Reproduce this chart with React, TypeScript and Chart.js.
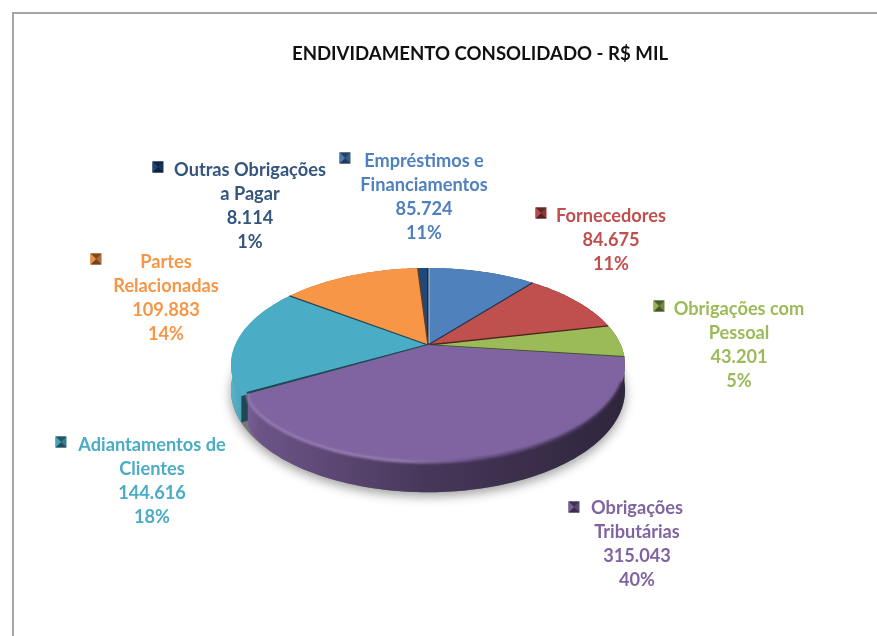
import React, { useEffect, useRef } from "react";
import { Chart, registerables } from "chart.js";

Chart.register(...registerables);

const TITLE = "ENDIVIDAMENTO CONSOLIDADO - R$ MIL";
const categories = [
  ["Empréstimos e", "Financiamentos"],
  ["Fornecedores"],
  ["Obrigações com", "Pessoal"],
  ["Obrigações", "Tributárias"],
  ["Adiantamentos de", "Clientes"],
  ["Partes", "Relacionadas"],
  ["Outras Obrigações", "a Pagar"],
];
const values = [85724, 84675, 43201, 315043, 144616, 109883, 8114];
const sliceColors = ["#4f81bd", "#c0504d", "#9bbb59", "#8064a2", "#4bacc6", "#f79646", "#1f497d"];
const textColors = ["#4f81bd", "#c0504d", "#9bbb59", "#8064a2", "#4bacc6", "#f79646", "#35557f"];

// Layout of the data labels: [text centre x, first baseline y, marker centre x, marker centre y]
const labelLayout = [
  [424, 167, 345, 158],
  [611, 222, 541, 213],
  [739, 315, 659, 306],
  [637, 514, 574, 507],
  [152, 451, 61, 442],
  [166, 268, 96, 259],
  [250, 176, 158, 167],
];

// Perspective of the pie: apex, half axes, foreshortening and wall height
const CX = 428, CY = 345, AX = 192.8, AY = 92.9, K = 0.206, DEPTH = 24;
const FONT = "bold 18.2px Lato";

function shade(hex: string, f: number) {
  const n = parseInt(hex.slice(1), 16);
  const ch = [(n >> 16) & 255, (n >> 8) & 255, n & 255].map((c) =>
    Math.round(f <= 1 ? c * f : c + (255 - c) * (f - 1))
  );
  return `rgb(${ch[0]},${ch[1]},${ch[2]})`;
}

type Inset = ((t: number) => number) | null;

function project(theta: number, down: boolean, inset: Inset = null) {
  const X = Math.sin(theta), Y = Math.cos(theta);
  const w = 1 + K * Y;
  const r = inset ? inset(theta) : 1;
  return { x: CX + (AX * X * r) / w, y: CY - (AY * Y * r) / w + (down ? DEPTH / w : 0) };
}

function tracePath(ctx: CanvasRenderingContext2D, a: number, b: number, down: boolean, first: boolean, inset: Inset = null) {
  const n = Math.max(2, Math.ceil(Math.abs(b - a) / 0.02));
  for (let i = 0; i <= n; i++) {
    const p = project(a + ((b - a) * i) / n, down, inset);
    if (first && i === 0) ctx.moveTo(p.x, p.y);
    else ctx.lineTo(p.x, p.y);
  }
}

const pie3d = {
  id: "pie3d",
  beforeDraw(chart: any) {
    const { ctx, width, height } = chart;
    ctx.save();
    ctx.fillStyle = "#fff";
    ctx.fillRect(0, 0, width, height);
    ctx.strokeStyle = "#a6a6a6";
    ctx.lineWidth = 2;
    ctx.beginPath();
    ctx.moveTo(13, height);
    ctx.lineTo(13, 13);
    ctx.lineTo(width, 13);
    ctx.stroke();
    ctx.restore();
  },
  beforeDatasetDraw(chart: any) {
    const { ctx } = chart;
    const arcs = chart.getDatasetMeta(0).data;
    const colors = chart.data.datasets[0].backgroundColor;
    const ang = arcs.map((arc: any) => [arc.startAngle + Math.PI / 2, arc.endAngle + Math.PI / 2]);
    const left = CX - AX / Math.sqrt(1 - K * K);
    const right = CX + AX / Math.sqrt(1 - K * K);
    const purpleEnd = ang[3][1];
    // the large slice has a softly rounded corner, set in from the teal one
    const roundPurple: Inset = (t) => 1 - 0.035 * Math.exp(-(purpleEnd - t) / 0.09);
    const insetOf = (i: number): Inset => (i === 3 ? roundPurple : null);

    ctx.save();
    // soft shadow below the disc
    ctx.save();
    ctx.shadowColor = "rgba(0,0,0,0.38)";
    ctx.shadowBlur = 11;
    ctx.shadowOffsetY = 4;
    ctx.fillStyle = "#777";
    ctx.beginPath();
    tracePath(ctx, 0, Math.PI * 2, true, true);
    ctx.closePath();
    ctx.fill();
    ctx.restore();

    // cut wall of the teal slice, seen beside the purple corner
    const tc = project(purpleEnd, false);
    const tcD = project(purpleEnd, true);
    ctx.fillStyle = shade(colors[4], 0.42);
    ctx.beginPath();
    ctx.moveTo(tc.x, tc.y);
    ctx.lineTo(tcD.x, tcD.y);
    ctx.lineTo(CX, CY + DEPTH);
    ctx.lineTo(CX, CY);
    ctx.closePath();
    ctx.fill();

    // outer walls, back slices first
    const order = [6, 0, 5, 1, 2, 4, 3];
    order.forEach((i) => {
      const [a, b] = ang[i];
      const c = colors[i];
      const g = ctx.createLinearGradient(left, 0, right, 0);
      g.addColorStop(0, shade(c, 1.06));
      g.addColorStop(0.07, shade(c, 0.84));
      g.addColorStop(0.5, shade(c, 0.55));
      g.addColorStop(1, shade(c, 0.37));
      ctx.fillStyle = g;
      ctx.beginPath();
      tracePath(ctx, a, b, false, true, insetOf(i));
      tracePath(ctx, b, a, true, false, insetOf(i));
      ctx.closePath();
      ctx.fill();
    });

    // top faces
    arcs.forEach((_: any, i: number) => {
      if (i === 3) return;
      const [a, b] = ang[i];
      ctx.fillStyle = colors[i];
      ctx.beginPath();
      ctx.moveTo(CX, CY);
      tracePath(ctx, a, b, false, false);
      ctx.closePath();
      ctx.fill();
    });
    // separators between the slices
    arcs.forEach((_: any, i: number) => {
      if (i === 3 || i === 4) return;
      const prev = (i + arcs.length - 1) % arcs.length;
      const p = project(ang[i][0], false);
      ctx.strokeStyle = shade(colors[prev], 0.42);
      ctx.lineWidth = 1.3;
      ctx.beginPath();
      ctx.moveTo(CX, CY);
      ctx.lineTo(p.x, p.y);
      ctx.stroke();
    });
    // dark edge of the teal slice, then the large slice on top of it
    const cut = project(purpleEnd, false, roundPurple);
    ctx.strokeStyle = shade(colors[4], 0.42);
    ctx.lineWidth = 2.2;
    ctx.beginPath();
    ctx.moveTo(CX, CY);
    ctx.lineTo(cut.x - 1, cut.y - 1);
    ctx.stroke();
    ctx.strokeStyle = shade(colors[2], 0.42);
    const pStart = project(ang[3][0], false);
    ctx.lineWidth = 1.6;
    ctx.beginPath();
    ctx.moveTo(CX, CY);
    ctx.lineTo(pStart.x, pStart.y);
    ctx.stroke();
    ctx.fillStyle = colors[3];
    ctx.beginPath();
    ctx.moveTo(CX, CY);
    tracePath(ctx, ang[3][0], purpleEnd, false, false, roundPurple);
    ctx.closePath();
    ctx.fill();

    const blueStart = project(ang[0][0], false);
    ctx.strokeStyle = "rgba(255,255,255,0.4)";
    ctx.lineWidth = 1.4;
    ctx.beginPath();
    ctx.moveTo(CX + 1, CY - 2);
    ctx.lineTo(blueStart.x + 1, blueStart.y);
    ctx.stroke();

    // soft bevel along the front rim of the large slice
    const c = colors[3];
    const g = ctx.createLinearGradient(left, 0, right, 0);
    g.addColorStop(0, shade(c, 1.14));
    g.addColorStop(0.42, shade(c, 1.16));
    g.addColorStop(0.62, shade(c, 0.8));
    g.addColorStop(1, shade(c, 0.42));
    ctx.save();
    ctx.filter = "blur(1.1px)";
    ctx.strokeStyle = g;
    ctx.lineWidth = 3;
    ctx.beginPath();
    tracePath(ctx, ang[3][0] + 0.25, purpleEnd, false, true, roundPurple);
    ctx.stroke();
    ctx.restore();
    ctx.restore();
    return false;
  },
  afterDraw(chart: any) {
    const { ctx } = chart;
    const data: number[] = chart.data.datasets[0].data;
    const names: string[][] = chart.data.labels;
    const total = data.reduce((s, v) => s + v, 0);
    ctx.save();
    ctx.font = FONT;
    ctx.textAlign = "center";
    ctx.textBaseline = "alphabetic";
    data.forEach((v, i) => {
      const [tx, ty, mx, my] = labelLayout[i];
      const lines = [
        ...names[i],
        v.toLocaleString("de-DE"),
        `${Math.round((v / total) * 100)}%`,
      ];
      ctx.fillStyle = textColors[i];
      lines.forEach((t, k) => ctx.fillText(t, tx, ty + k * 24));
      // legend key
      const s = 5.5;
      const col = sliceColors[i];
      ctx.fillStyle = shade(col, 0.72);
      ctx.fillRect(mx - s, my - s, s * 2, s * 2);
      const tri = (pts: number[][], f: string) => {
        ctx.fillStyle = f;
        ctx.beginPath();
        pts.forEach(([x, y], n) => (n ? ctx.lineTo(mx + x, my + y) : ctx.moveTo(mx + x, my + y)));
        ctx.closePath();
        ctx.fill();
      };
      tri([[-s, -s], [s, -s], [0, 0]], shade(col, 0.5));
      tri([[-s, s], [s, s], [0, 0]], shade(col, 0.45));
      tri([[-s, -s], [-s, s], [0, 0]], shade(col, 0.95));
    });
    ctx.restore();
  },
};

export default function App() {
  const ref = useRef<HTMLCanvasElement>(null);
  useEffect(() => {
    const chart = new Chart(ref.current!, {
      type: "pie",
      data: {
        labels: categories as any,
        datasets: [{ data: values, backgroundColor: sliceColors, borderWidth: 0 }],
      },
      options: {
        responsive: false,
        animation: false,
        layout: { padding: { left: 83 } },
        plugins: {
          legend: { display: false },
          tooltip: { enabled: false },
          title: {
            display: true,
            text: TITLE,
            color: "#111",
            font: { family: "Lato", size: 18.6, weight: "bold" },
            padding: { top: 43, bottom: 10 },
          },
        },
      },
      plugins: [pie3d as any],
    });
    return () => chart.destroy();
  }, []);
  return (
    <div style={{ position: "fixed", left: 0, top: 0, width: 877, height: 636, overflow: "hidden", background: "#fff" }}>
      <canvas ref={ref} width={877} height={636} style={{ display: "block", filter: "blur(0.45px)" }} />
    </div>
  );
}
